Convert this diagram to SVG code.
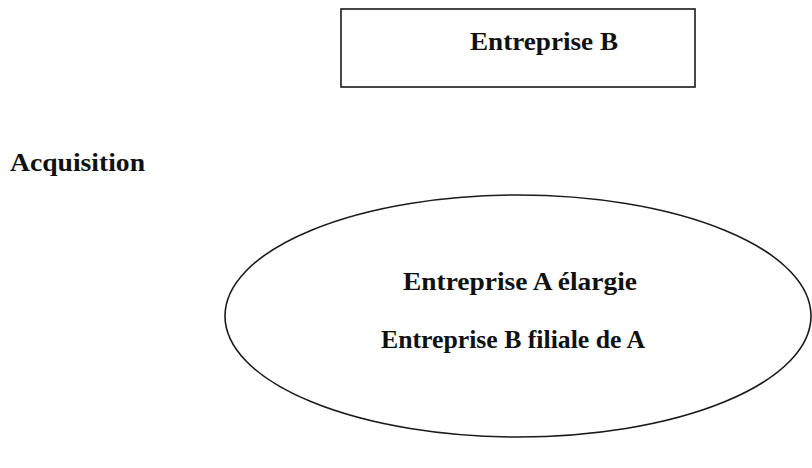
<svg xmlns="http://www.w3.org/2000/svg" width="812" height="468" viewBox="0 0 812 468">
  <style>
    .shape { fill: #ffffff; stroke: #1a1a1a; stroke-width: 1.6; }
    .label { font-family: "Liberation Serif", "Times New Roman", serif; font-weight: bold; font-size: 25px; fill: #111111; }
  </style>
  <rect width="812" height="468" fill="#ffffff"/>

  <g id="entreprise-b">
    <rect class="shape" x="341" y="9" width="354" height="78"/>
    <text class="label" x="470" y="50" textLength="148" lengthAdjust="spacingAndGlyphs">Entreprise B</text>
  </g>

  <g id="acquisition">
    <text class="label" x="10" y="171" textLength="135" lengthAdjust="spacingAndGlyphs">Acquisition</text>
  </g>

  <g id="entreprise-a-elargie">
    <ellipse class="shape" cx="518" cy="316" rx="293" ry="121"/>
    <text class="label" x="403" y="290" textLength="234" lengthAdjust="spacingAndGlyphs">Entreprise A élargie</text>
    <text class="label" x="381" y="348" textLength="264" lengthAdjust="spacingAndGlyphs">Entreprise B filiale de A</text>
  </g>

  <g id="connectors"></g>
</svg>
